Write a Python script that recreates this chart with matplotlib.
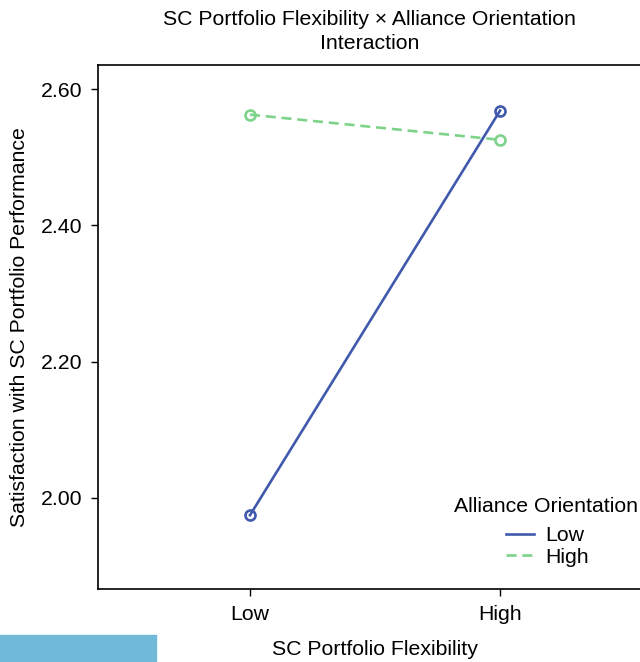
import matplotlib
matplotlib.use('Agg')
import matplotlib.pyplot as plt
from matplotlib.patches import Rectangle

plt.rcParams['font.family'] = ['Liberation Sans', 'DejaVu Sans']

flex_levels = ['Low', 'High']
ao_low = [1.974, 2.569]
ao_high = [2.563, 2.526]
yticks = [2.00, 2.20, 2.40, 2.60]

fig = plt.figure(figsize=(6.4, 6.62), dpi=100)
ax = fig.add_axes([0.153, 0.1098, 0.866, 0.792])

x = [1, 2]
ax.plot(x, ao_low, color='#4059AD', lw=1.9, marker='o', ms=7.2, mfc='none',
        mew=1.9, label='Low')
ax.plot(x, ao_high, color='#7DD389', lw=1.9, ls=(0, (3.8, 2.2)), marker='o', ms=7.2,
        mfc='none', mew=1.9, label='High')

ax.set_xlim(0.392, 2.608)
ax.set_ylim(1.865, 2.636)
ax.set_xticks(x)
ax.set_xticklabels(flex_levels)
ax.set_yticks(yticks)
ax.set_yticklabels(['%.2f' % v for v in yticks])
ax.tick_params(labelsize=15.3, length=5, width=1, pad=6)
for s in ax.spines.values():
    s.set_linewidth(1.2)

ax.set_xlabel('SC Portfolio Flexibility', fontsize=15.3, labelpad=12)
ax.set_ylabel('Satisfaction with SC Portfolio Performance', fontsize=15.3, labelpad=9)
fig.text(0.578, 0.971, 'SC Portfolio Flexibility \u00d7 Alliance Orientation',
         ha='center', va='center', fontsize=15.3)
fig.text(0.578, 0.934, 'Interaction', ha='center', va='center', fontsize=15.3)

# legend title drawn on its own so the gap to the entries can be set
fig.text(546 / 640, 1 - 507 / 662, 'Alliance Orientation', ha='center', va='center',
         fontsize=15.3)
leg = ax.legend(frameon=False, fontsize=15.3, handlelength=1.3, handletextpad=0.55,
                labelspacing=0.1, borderpad=0, loc='center',
                bbox_to_anchor=(547.5 / 640, 1 - 546.5 / 662),
                bbox_transform=fig.transFigure)
for h in leg.legend_handles:
    h.set_marker('')

fig.patches.append(Rectangle((0, 0), 156 / 640, 27 / 662, transform=fig.transFigure,
                             color='#70B9D9', zorder=0))

fig.savefig('out.png', dpi=100)
